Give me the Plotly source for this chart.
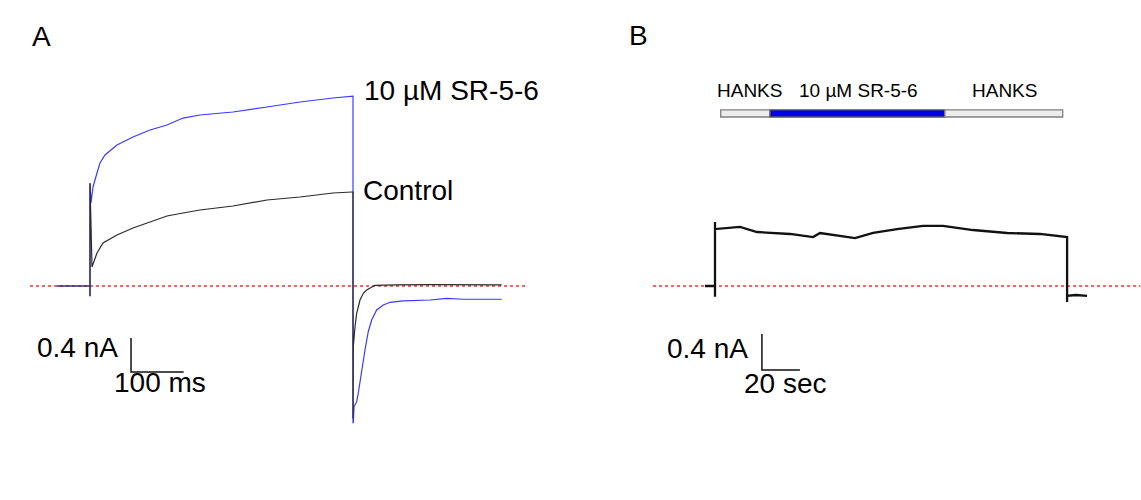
import plotly.graph_objects as go

# ---------------- Panel A data (time in ms, current in nA) ----------------
a_base_t = [-63, -40, -20, 0]
a_base_i = [0, 0, 0, 0]

a_blue_t = [1.9, 5.7, 13.3, 19.0, 28.5, 51.3, 81.7, 114.1, 146.4, 176.8, 209.1,
            271.9, 336.5, 399.2, 462.0, 498.1]
a_blue_i = [0.976, 1.165, 1.329, 1.447, 1.541, 1.659, 1.753, 1.835, 1.894, 1.976,
            2.012, 2.047, 2.106, 2.165, 2.212, 2.235]

a_ctrl_t = [3.8, 13.3, 24.7, 51.3, 81.7, 114.1, 146.4, 176.8, 209.1, 271.9, 336.5,
            399.2, 462.0, 498.1]
a_ctrl_i = [0.224, 0.388, 0.506, 0.600, 0.682, 0.753, 0.824, 0.859, 0.894, 0.941,
            1.012, 1.047, 1.094, 1.106]

a_spike_i = [-0.12, 1.21]        # capacitive transient at step onset
a_step_end = 500                 # ms
a_blue_tail_t = [500.6, 501.9, 507.0, 510.0, 516.5, 522.8, 529.0, 535.5, 545.0, 557.6,
                 570.3, 595.6, 646.4, 678.0, 709.7, 741.0, 782.7]
a_blue_tail_i = [-1.608, -1.420, -1.361, -1.262, -0.988, -0.753, -0.538, -0.400, -0.282,
                 -0.224, -0.192, -0.176, -0.165, -0.145, -0.156, -0.156, -0.156]
a_ctrl_tail_t = [500.6, 503.8, 507.0, 513.3, 519.6, 526.0, 535.5, 541.8, 583.0, 646.4, 782.7]
a_ctrl_tail_i = [-0.714, -0.479, -0.321, -0.165, -0.086, -0.047, -0.008, 0.008, 0.012,
                 0.016, 0.012]

a_zero_t = [-114, 827]
a_scale_t = 100   # ms
a_scale_i = 0.4   # nA

# ---------------- Panel B data (time in s, current in nA) ----------------
b_pre_t = [-5.3, -0.5, 0]
b_pre_i = [0, 0, 0]
b_spike_i = [-0.12, 0.71]
b_t = [0, 13.2, 22.1, 39.5, 51.6, 55.3, 65.8, 73.7, 83.2, 95.8, 109.5, 120.0,
       135.8, 153.7, 171.0, 185.3]
b_i = [0.633, 0.656, 0.600, 0.578, 0.544, 0.589, 0.556, 0.533, 0.589, 0.633,
       0.667, 0.667, 0.622, 0.589, 0.578, 0.544]
b_off_dip = -0.178
b_post_t = [185.3, 190.0, 195.8]
b_post_i = [-0.11, -0.10, -0.11]
b_zero_t = [-32.6, 224]
b_scale_t = 20    # s
b_scale_i = 0.4   # nA

b_bar_labels = ["HANKS", "10 µM SR-5-6", "HANKS"]
b_bar_start = [3, 29, 121]
b_bar_end = [29, 121, 183]
b_label_t = [17.9, 75.5, 152.4]

# ---------------- axis geometry ----------------
W, H = 1141, 500
A_RANGE_X = [-171.1, 1998.1]
A_RANGE_Y = [-2.518, 3.365]
B_RANGE_X = [-376.3, 224.2]
B_RANGE_Y = [-2.378, 3.178]

BLUE = "#3a3aff"
DARK = "#2a2a2a"
RED = "#ff2a2a"
FONT = "Liberation Sans, Arial, sans-serif"

fig = go.Figure()

# Panel A zero line
fig.add_trace(go.Scatter(x=a_zero_t, y=[0, 0], mode="lines",
                         line=dict(color=RED, width=1.6, dash="dot"),
                         xaxis="x", yaxis="y", hoverinfo="skip"))

# Blue trace (drawn first)
bt = a_base_t + [0, 0] + a_blue_t + [a_step_end, a_step_end] + a_blue_tail_t
bi = a_base_i + a_spike_i + a_blue_i + [a_blue_i[-1], a_blue_tail_i[0]] + a_blue_tail_i
fig.add_trace(go.Scatter(x=bt, y=bi, mode="lines", line=dict(color=BLUE, width=1.2),
                         xaxis="x", yaxis="y", hoverinfo="skip"))
# Control trace
ct = a_base_t + [0, 0] + a_ctrl_t + [a_step_end, a_step_end] + a_ctrl_tail_t
ci = a_base_i + a_spike_i + a_ctrl_i + [a_ctrl_i[-1], a_blue_tail_i[0] + 0.05] + a_ctrl_tail_i
fig.add_trace(go.Scatter(x=ct, y=ci, mode="lines", line=dict(color=DARK, width=1.2),
                         xaxis="x", yaxis="y", hoverinfo="skip"))

# Panel A scale bar
a_sx0, a_sy0 = 78, -1.012
fig.add_trace(go.Scatter(x=[a_sx0, a_sx0, a_sx0 + a_scale_t],
                         y=[a_sy0 + a_scale_i, a_sy0, a_sy0],
                         mode="lines", line=dict(color="#111", width=1.5),
                         xaxis="x", yaxis="y", hoverinfo="skip"))

# Panel B zero line
fig.add_trace(go.Scatter(x=b_zero_t, y=[0, 0], mode="lines",
                         line=dict(color=RED, width=1.6, dash="dot"),
                         xaxis="x2", yaxis="y2", hoverinfo="skip"))
# Panel B trace
tt = b_pre_t + [0, 0] + b_t + [b_t[-1]] + b_post_t
ii = b_pre_i + b_spike_i + b_i + [b_off_dip] + b_post_i
fig.add_trace(go.Scatter(x=tt, y=ii, mode="lines", line=dict(color="#111", width=2.3),
                         xaxis="x2", yaxis="y2", hoverinfo="skip"))

# Panel B scale bar
b_sx0, b_sy0 = 24.7, -0.933
fig.add_trace(go.Scatter(x=[b_sx0, b_sx0, b_sx0 + b_scale_t],
                         y=[b_sy0 + b_scale_i, b_sy0, b_sy0],
                         mode="lines", line=dict(color="#111", width=1.5),
                         xaxis="x2", yaxis="y2", hoverinfo="skip"))

# Panel B perfusion bar
shapes = []
bar_y0, bar_y1 = 1.878, 1.956
for lab, s, e in zip(b_bar_labels, b_bar_start, b_bar_end):
    drug = lab != "HANKS"
    shapes.append(dict(type="rect", xref="x2", yref="y2", x0=s, x1=e, y0=bar_y0, y1=bar_y1,
                       fillcolor="#0000ee" if drug else "#ededed",
                       line=dict(color="#555" if drug else "#808080", width=1.3),
                       layer="above"))

ann = []
def txt(text, x, y, xref, yref, size, xanchor="left"):
    ann.append(dict(text=text, x=x, y=y, xref=xref, yref=yref, showarrow=False,
                    xanchor=xanchor, yanchor="middle",
                    font=dict(family=FONT, size=size, color="#000")))

txt("A", -114, 2.93, "x", "y", 28)
txt("10 µM SR-5-6", 517, 2.306, "x", "y", 28)
txt("Control", 515, 1.129, "x", "y", 28)
txt("0.4 nA", 57, -0.718, "x", "y", 28, "right")
txt("100 ms", 41, -1.141, "x", "y", 28)
txt("B", -46.3, 2.789, "x2", "y2", 28)
txt("0.4 nA", 18.4, -0.689, "x2", "y2", 28, "right")
txt("20 sec", 14.2, -1.078, "x2", "y2", 28)
for lab, lt in zip(b_bar_labels, b_label_t):
    txt(lab, lt, 2.167, "x2", "y2", 19, "center")

ax = dict(visible=False, showgrid=False, zeroline=False, fixedrange=True)
fig.update_layout(
    width=W, height=H, autosize=False,
    margin=dict(l=0, r=0, t=0, b=0, pad=0),
    paper_bgcolor="white", plot_bgcolor="white",
    showlegend=False,
    xaxis=dict(ax, range=A_RANGE_X, domain=[0, 1]),
    yaxis=dict(ax, range=A_RANGE_Y, domain=[0, 1]),
    xaxis2=dict(ax, range=B_RANGE_X, domain=[0, 1], overlaying="x"),
    yaxis2=dict(ax, range=B_RANGE_Y, domain=[0, 1], overlaying="y"),
    shapes=shapes, annotations=ann,
)
fig.write_html("out.html", config={"displayModeBar": False})
